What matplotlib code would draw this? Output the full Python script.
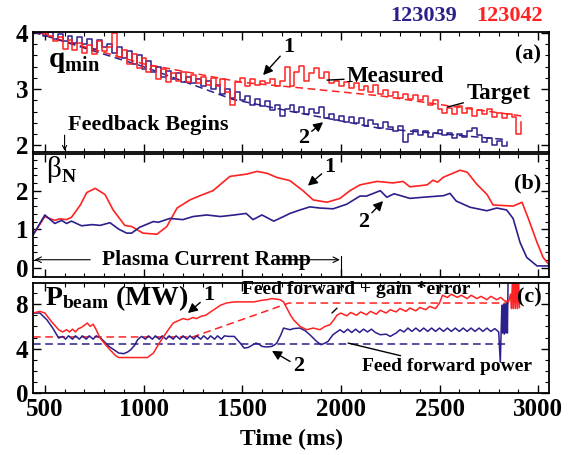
import numpy as np
import matplotlib
matplotlib.use("Agg")
import matplotlib.pyplot as plt
from matplotlib.ticker import MultipleLocator

plt.rcParams['font.family'] = ['Liberation Serif', 'DejaVu Serif']
plt.rcParams['font.weight'] = 'bold'
plt.rcParams['axes.labelweight'] = 'bold'
plt.rcParams['mathtext.fontset'] = 'custom'
plt.rcParams['mathtext.rm'] = 'Liberation Serif'
plt.rcParams['mathtext.it'] = 'Liberation Serif:italic'
plt.rcParams['mathtext.bf'] = 'Liberation Serif:bold'

BLUE = '#2b1f8c'
RED = '#ff2222'

# ---- panel (a): q_min, sampled every 25 ms from 440 ms ----
qmin_red = [4.02, 4.02, 3.98, 3.95, 3.85, 3.92, 3.72, 3.88, 3.70, 3.82,
            3.65, 3.78, 3.62, 3.85, 3.68, 3.75, 4.00, 3.58, 3.70, 3.45,
            3.62, 3.38, 3.55, 3.30, 3.42, 3.18, 3.35, 3.12, 3.28, 3.15,
            3.30, 3.12, 3.25, 3.10, 3.22, 3.08, 3.20, 3.05, 3.18, 2.95,
            2.72, 3.12, 3.20, 3.05, 3.18, 3.08, 3.15, 3.10, 3.18, 3.05,
            3.15, 3.40, 3.05, 3.30, 3.42, 3.15, 3.28, 3.38, 3.20, 3.30,
            3.10, 3.15, 3.05, 3.12, 3.02, 3.10, 2.98, 3.05, 2.95, 3.08,
            2.92, 2.98, 2.88, 2.95, 2.85, 2.92, 2.82, 2.90, 2.80, 2.88,
            2.72, 2.80, 2.65, 2.58, 2.66, 2.55, 2.70, 2.58, 2.66, 2.52,
            2.62, 2.55, 2.64, 2.50, 2.58, 2.48, 2.55, 2.50, 2.20, 2.42]
qmin_blue = [4.02, 4.00, 3.95, 4.02, 3.90, 3.98, 3.85, 3.95, 3.82, 3.92,
             3.80, 3.90, 3.72, 3.88, 3.75, 3.80, 3.65, 3.75, 3.55, 3.68,
             3.45, 3.60, 3.35, 3.50, 3.30, 3.40, 3.22, 3.32, 3.18, 3.28,
             3.12, 3.22, 3.10, 3.18, 3.05, 3.15, 3.00, 3.08, 2.92, 3.00,
             2.85, 2.95, 2.80, 2.88, 2.72, 2.82, 2.70, 2.78, 2.62, 2.72,
             2.52, 2.65, 2.72, 2.60, 2.68, 2.55, 2.65, 2.58, 2.68, 2.48,
             2.55, 2.45, 2.52, 2.42, 2.50, 2.40, 2.48, 2.35, 2.45, 2.38,
             2.30, 2.42, 2.32, 2.25, 2.35, 2.05, 2.20, 2.28, 2.18, 2.25,
             2.15, 2.22, 2.28, 2.18, 2.22, 2.12, 2.20, 2.15, 2.25, 2.30,
             2.18, 2.05, 2.12, 2.00, 2.08, 1.98, 2.06]
t_qmin_red = 440 + 25 * np.arange(len(qmin_red))
t_qmin_blue = 440 + 25 * np.arange(len(qmin_blue))

t_target_red = [440, 1000, 1500, 1800, 2200, 2550, 2920]
target_red = [4.02, 3.45, 3.12, 3.02, 2.88, 2.70, 2.52]
t_target_blue = [440, 1000, 1450, 1750, 2200, 2840]
target_blue = [4.02, 3.40, 2.82, 2.60, 2.30, 2.10]

# ---- panel (b): beta_N ----
t_beta_red = [440, 500, 550, 575, 610, 635, 680, 712, 755, 805,
              846, 905, 940, 997, 1068, 1118, 1170, 1235, 1286, 1352,
              1438, 1524, 1575, 1626, 1677, 1742, 1757, 1808, 1860, 1930,
              1996, 2046, 2097, 2183, 2264, 2315, 2350, 2437, 2467, 2490,
              2520, 2553, 2604, 2640, 2690, 2741, 2771, 2873, 2918, 2950,
              2994, 3025, 3055]
beta_red = [0.85, 1.33, 1.23, 1.27, 1.25, 1.31, 1.63, 1.95, 2.06, 1.90,
            1.50, 1.10, 1.07, 0.90, 0.87, 1.07, 1.55, 1.76, 1.87, 2.00,
            2.37, 2.43, 2.50, 2.45, 2.34, 2.26, 2.20, 2.00, 1.76, 1.70,
            1.80, 2.00, 2.15, 2.24, 2.20, 2.24, 2.10, 2.15, 2.27, 2.22,
            2.35, 2.42, 2.53, 2.48, 2.16, 1.90, 1.63, 1.60, 1.70, 1.28,
            0.66, 0.27, 0.08]
t_beta_blue = [440, 500, 550, 585, 610, 635, 686, 740, 780, 830,
               875, 915, 940, 980, 1050, 1075, 1133, 1200, 1252, 1320,
               1390, 1460, 1520, 1555, 1600, 1660, 1710, 1742, 1793, 1843,
               1894, 1961, 2030, 2097, 2130, 2200, 2233, 2270, 2350, 2418,
               2520, 2553, 2585, 2655, 2740, 2790, 2840, 2873, 2908, 2942,
               2994, 3055]
beta_blue = [0.85, 1.37, 1.15, 1.23, 1.15, 1.21, 1.09, 1.12, 1.10, 1.17,
             1.00, 0.90, 0.90, 1.05, 1.20, 1.18, 1.28, 1.25, 1.33, 1.37,
             1.33, 1.37, 1.41, 1.25, 1.37, 1.21, 1.33, 1.41, 1.50, 1.58,
             1.55, 1.53, 1.65, 1.86, 1.86, 2.00, 1.83, 1.92, 1.80, 1.83,
             1.87, 1.93, 1.73, 1.57, 1.48, 1.55, 1.50, 1.28, 0.66, 0.27,
             0.05, 0.05]

# ---- panel (c): P_beam (MW) ----
t_pb_red = [440, 475, 500, 535, 570, 590, 610, 625, 640, 655,
            670, 685, 700, 715, 730, 745, 760, 780, 810, 830,
            860, 875, 1020, 1050, 1080, 1118, 1150, 1175, 1200, 1225,
            1250, 1270, 1290, 1315, 1340, 1365, 1390, 1420, 1460, 1560,
            1600, 1626, 1650, 1675, 1692, 1710, 1726, 1745, 1760, 1793,
            1827, 1860, 1894, 1920, 1945, 1965, 1980, 2000, 2030, 2050,
            2080, 2100, 2130, 2150, 2180, 2200, 2230, 2250, 2280, 2300,
            2330, 2350, 2380, 2400, 2430, 2450, 2480, 2500, 2515, 2540,
            2560, 2590, 2610, 2640, 2660, 2690, 2710, 2740, 2760, 2790,
            2810, 2830, 2850, 2860, 2865, 2870, 2875, 2880, 2885, 2890,
            2895, 2900, 2905]
pb_red = [7.2, 7.35, 7.2, 6.4, 5.7, 5.5, 5.7, 5.5, 5.75, 5.5,
          5.8, 5.9, 6.1, 6.3, 6.0, 6.2, 5.7, 4.95, 4.3, 3.9,
          3.35, 3.2, 3.2, 3.6, 4.5, 5.5, 6.3, 6.5, 6.7, 6.6,
          6.8, 6.7, 6.9, 7.0, 7.3, 7.6, 7.9, 8.1, 8.2, 8.2,
          8.35, 8.4, 8.5, 8.45, 8.4, 8.2, 7.65, 7.0, 6.6, 6.0,
          5.7, 5.85, 5.7, 6.0, 6.15, 6.6, 7.0, 7.2, 6.95, 7.25,
          7.0, 7.3, 7.05, 7.35, 7.1, 7.45, 7.2, 7.5, 7.3, 7.6,
          7.35, 7.65, 7.4, 7.7, 7.5, 7.8, 7.6, 8.1, 8.8, 8.6,
          8.9, 8.6, 8.8, 8.5, 8.8, 8.5, 8.7, 8.4, 8.7, 8.4,
          8.6, 8.3, 8.2, 8.9, 7.6, 10.5, 7.6, 10.5, 7.6, 10.5,
          7.6, 10.5, 7.7]
t_pb_blue = [440, 475, 510, 540, 570, 590, 605, 620, 640, 655,
             675, 690, 710, 725, 745, 760, 780, 800, 825, 850,
             875, 900, 920, 935, 955, 970, 990, 1010, 1025, 1045,
             1060, 1080, 1095, 1115, 1130, 1150, 1165, 1185, 1200, 1220,
             1235, 1255, 1270, 1290, 1305, 1325, 1340, 1360, 1375, 1395,
             1410, 1430, 1460, 1490, 1510, 1530, 1550, 1570, 1585, 1600,
             1625, 1650, 1665, 1675, 1695, 1710, 1742, 1760, 1793, 1820,
             1843, 1877, 1900, 1920, 1935, 1960, 1996, 2015, 2035, 2055,
             2075, 2095, 2115, 2135, 2155, 2175, 2200, 2230, 2250, 2280,
             2300, 2320, 2340, 2360, 2380, 2400, 2420, 2440, 2460, 2480,
             2500, 2520, 2540, 2560, 2580, 2600, 2620, 2640, 2660, 2680,
             2700, 2720, 2740, 2760, 2780, 2800, 2808, 2812, 2816, 2820,
             2824, 2828, 2832, 2836, 2840, 2844, 2848]
pb_blue = [7.2, 7.2, 6.6, 5.85, 4.95, 5.1, 4.85, 5.15, 4.85, 5.15,
           4.85, 5.15, 4.85, 5.15, 4.85, 5.15, 5.0, 4.65, 4.2, 3.9,
           3.6, 3.55, 3.7, 3.9, 4.3, 4.8, 5.1, 4.85, 5.15, 4.85,
           5.15, 4.85, 5.15, 4.85, 5.15, 4.85, 5.15, 4.85, 5.15, 4.85,
           5.15, 4.85, 5.15, 4.85, 5.15, 4.85, 5.15, 4.85, 5.15, 4.85,
           5.15, 5.1, 5.1, 4.5, 4.05, 4.1, 4.3, 4.5, 4.4, 4.2,
           4.15, 4.2, 4.35, 4.5, 5.2, 5.85, 5.7, 5.8, 5.85, 5.6,
           5.25, 4.65, 4.35, 4.5, 4.65, 5.25, 5.7, 5.45, 5.75, 5.45,
           5.75, 5.45, 5.75, 5.5, 5.75, 5.45, 5.25, 5.3, 5.1, 5.4,
           5.7, 5.5, 5.85, 5.55, 5.85, 5.55, 5.85, 5.55, 5.85, 5.55,
           5.85, 5.55, 5.85, 5.55, 5.85, 5.55, 5.85, 5.55, 5.85, 5.55,
           5.85, 5.55, 5.85, 5.55, 5.8, 5.5, 2.8, 5.3, 7.9, 5.4,
           8.0, 5.3, 8.0, 5.4, 8.1, 5.4, 11.0]
t_ff_red = [440, 1250, 1737, 2850]
ff_red = [5.05, 5.05, 8.1, 8.1]
t_ff_blue = [440, 2850]
ff_blue = [4.4, 4.4]

fig = plt.figure(figsize=(5.74, 4.55), dpi=100)
ax_a = fig.add_axes([0.0575, 0.666, 0.899, 0.264])
ax_b = fig.add_axes([0.0575, 0.391, 0.899, 0.2705])
ax_c = fig.add_axes([0.0575, 0.136, 0.899, 0.242])

for ax in (ax_a, ax_b, ax_c):
    ax.set_xlim(440, 3055)
    ax.xaxis.set_major_locator(MultipleLocator(500))
    ax.xaxis.set_minor_locator(MultipleLocator(100))
    ax.tick_params(which='both', direction='in', top=True, right=True, labelsize=18)
    ax.tick_params(which='major', length=6, width=1)
    ax.tick_params(which='minor', length=3, width=0.8)
    for s in ax.spines.values():
        s.set_linewidth(1.3)
ax_a.tick_params(labelbottom=False)
ax_b.tick_params(labelbottom=False)

arrow_kw = dict(arrowstyle='-|>,head_length=0.35,head_width=0.18', color='black',
                lw=1, shrinkA=0, shrinkB=0)
line_kw = dict(arrowstyle='-', color='black', lw=1, shrinkA=0, shrinkB=0)

# (a)
ax_a.set_ylim(1.88, 4.02)
ax_a.yaxis.set_major_locator(MultipleLocator(1))
ax_a.yaxis.set_minor_locator(MultipleLocator(0.2))
ax_a.plot(t_target_red, target_red, color=RED, ls=(0, (5, 3)), lw=1.1)
ax_a.plot(t_target_blue, target_blue, color=BLUE, ls=(0, (5, 3)), lw=1.1)
ax_a.plot(t_qmin_blue, qmin_blue, color=BLUE, lw=1.1, drawstyle='steps-post')
ax_a.plot(t_qmin_red, qmin_red, color=RED, lw=1.1, drawstyle='steps-post')
ax_a.text(515, 3.5, r'$\mathbf{q}_{\mathbf{min}}$', fontsize=21, va='center')
ax_a.text(1022, 2.36, 'Feedback Begins', fontsize=16, ha='center', va='center')
ax_a.annotate('', xy=(600, 1.90), xytext=(600, 2.18),
              arrowprops=dict(arrowstyle='->,head_length=0.3,head_width=0.15',
                              color='black', lw=0.8, shrinkA=0, shrinkB=0))
ax_a.annotate('1', xy=(1606, 3.25), xytext=(1735, 3.75), fontsize=16, ha='center', va='center',
              arrowprops=arrow_kw)
ax_a.annotate('2', xy=(1910, 2.41), xytext=(1810, 2.13), fontsize=16, ha='center', va='center',
              arrowprops=arrow_kw)
ax_a.annotate('Measured', xy=(1930, 3.16), xytext=(2030, 3.22), fontsize=16.5, ha='left', va='center',
              arrowprops=line_kw)
ax_a.annotate('Target', xy=(2540, 2.68), xytext=(2635, 2.92), fontsize=16.5, ha='left', va='center',
              arrowprops=line_kw)
ax_a.text(0.985, 0.81, '(a)', transform=ax_a.transAxes, fontsize=16, ha='right', va='center')
fig.text(0.797, 0.965, '123039', color=BLUE, fontsize=16, ha='right', va='center')
fig.text(0.945, 0.965, '123042', color=RED, fontsize=16, ha='right', va='center')

# (b)
ax_b.set_ylim(-0.24, 2.95)
ax_b.yaxis.set_major_locator(MultipleLocator(1))
ax_b.yaxis.set_minor_locator(MultipleLocator(0.2))
ax_b.plot(t_beta_red, beta_red, color=RED, lw=1.2)
ax_b.plot(t_beta_blue, beta_blue, color=BLUE, lw=1.2)
ax_b.text(505, 2.55, 'β', fontsize=21, fontweight='normal', va='center')
ax_b.text(585, 2.35, 'N', fontsize=14, fontweight='bold', va='center')
ax_b.annotate('1', xy=(1833, 2.13), xytext=(1945, 2.62), fontsize=16, ha='center', va='center',
              arrowprops=arrow_kw)
ax_b.annotate('2', xy=(2214, 1.73), xytext=(2115, 1.2), fontsize=16, ha='center', va='center',
              arrowprops=arrow_kw)
ax_b.text(0.985, 0.76, '(b)', transform=ax_b.transAxes, fontsize=16, ha='right', va='center')
ax_b.annotate('', xy=(448, 0.21), xytext=(730, 0.21),
              arrowprops=dict(arrowstyle='->,head_length=0.4,head_width=0.2',
                              color='black', lw=0.8, shrinkA=0, shrinkB=0))
ax_b.annotate('', xy=(1995, 0.21), xytext=(1690, 0.21),
              arrowprops=dict(arrowstyle='->,head_length=0.4,head_width=0.2',
                              color='black', lw=0.8, shrinkA=0, shrinkB=0))
ax_b.plot([2000, 2000], [0.3, -0.24], color='black', lw=0.8)
ax_b.text(1320, 0.21, 'Plasma Current Ramp', fontsize=15.5, ha='center', va='center')

# (c)
ax_c.set_ylim(0, 9.9)
ax_c.yaxis.set_major_locator(MultipleLocator(4))
ax_c.yaxis.set_minor_locator(MultipleLocator(1))
ax_c.plot(t_ff_red, ff_red, color=RED, ls=(0, (5, 3)), lw=1.1)
ax_c.plot(t_ff_blue, ff_blue, color=BLUE, ls=(0, (5, 3)), lw=1.1)
ax_c.plot(t_pb_blue, pb_blue, color=BLUE, lw=1.1)
ax_c.plot(t_pb_red, pb_red, color=RED, lw=1.1)
ax_c.text(500, 8.5, r'$\mathbf{P}_{\mathbf{beam}}$ (MW)', fontsize=20, va='center')
ax_c.annotate('1', xy=(1225, 7.2), xytext=(1330, 8.8), fontsize=16, ha='center', va='center',
              arrowprops=arrow_kw)
ax_c.annotate('2', xy=(1651, 3.8), xytext=(1785, 2.4), fontsize=16, ha='center', va='center',
              arrowprops=arrow_kw)
ax_c.annotate('Feed forward + gain *error', xy=(1955, 7.2), xytext=(2080, 9.35), fontsize=14,
              ha='center', va='center',
              arrowprops=dict(line_kw, shrinkA=8))
ax_c.annotate('Feed forward power', xy=(2037, 4.5), xytext=(2540, 2.35), fontsize=14,
              ha='center', va='center',
              arrowprops=dict(line_kw, shrinkA=55))
ax_c.text(0.985, 0.87, '(c)', transform=ax_c.transAxes, fontsize=16, ha='right', va='center')
ax_c.set_xlabel('Time (ms)', fontsize=17, fontweight='bold', labelpad=6)

for ax in (ax_a, ax_b, ax_c):
    for lab in ax.get_xticklabels() + ax.get_yticklabels():
        lab.set_fontweight('bold')

fig.savefig('out.png', dpi=100)
